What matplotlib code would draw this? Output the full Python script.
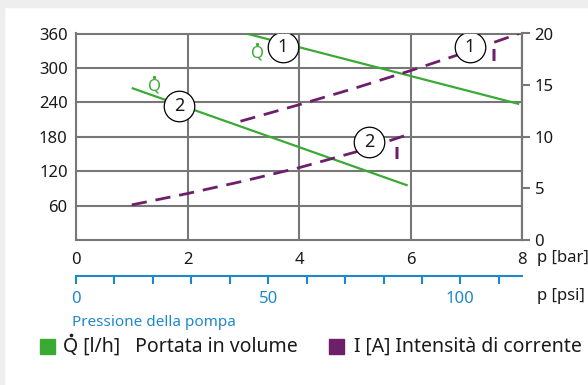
import matplotlib
matplotlib.use("Agg")
import matplotlib.pyplot as plt
from matplotlib.patches import Rectangle
from matplotlib.lines import Line2D

# Pump characteristics: pressure (bar) vs. volume flow (l/h) and current (A)
pressure_q1 = [3.05, 7.95]
flow_q1 = [360, 237]
pressure_q2 = [1.0, 5.95]
flow_q2 = [265, 95]

pressure_i1 = [2.95, 4.0, 5.0, 6.0, 7.0, 7.95]
current_i1 = [11.5, 13.1, 14.7, 16.4, 18.2, 20.0]
pressure_i2 = [1.0, 2.0, 3.0, 4.0, 5.0, 5.95]
current_i2 = [3.4, 4.5, 5.7, 7.0, 8.5, 10.2]

bar_ticks = [0, 2, 4, 6, 8]
flow_ticks = [60, 120, 180, 240, 300, 360]
current_ticks = [0, 5, 10, 15, 20]
psi_major = [0, 50, 100]
psi_minor = list(range(0, 120, 10))
PSI_PER_BAR = 14.5038

GREEN = "#3aaa35"
PURPLE = "#6d1f6a"
BLUE = "#1e88cc"
GRID = "#777777"
TEXT = "#1a1a1a"
FONT = "Noto Sans"

W, H = 588, 385
plt.rcParams["font.family"] = [FONT, "DejaVu Sans"]
fig = plt.figure(figsize=(W / 100, H / 100), dpi=100)


def fx(px):
    return px / W


def fy(py):
    return 1 - py / H


# light frame shadow along top and left edge
fig.patches.append(Rectangle((0, fy(7)), 1, 7 / H, transform=fig.transFigure,
                             color="#eeeeee", zorder=-5))
fig.patches.append(Rectangle((0, 0), 4 / W, 1, transform=fig.transFigure,
                             color="#eeeeee", zorder=-5))

ax = fig.add_axes([fx(76), fy(240), (522 - 76) / W, (240 - 33.5) / H])
ax.set_xlim(0, 8)
ax.set_ylim(0, 360)
ax.set_xticks(bar_ticks)
ax.set_yticks(flow_ticks)
ax.grid(True, color=GRID, linewidth=1.5)
ax.set_axisbelow(True)
for s in ax.spines.values():
    s.set_color(GRID)
    s.set_linewidth(1.5)
ax.tick_params(axis="x", length=0, pad=9, labelsize=12, labelcolor=TEXT)
ax.tick_params(axis="y", length=0, pad=6, labelsize=12, labelcolor=TEXT)

ax.plot(pressure_q1, flow_q1, color=GREEN, lw=1.6, solid_capstyle="butt", zorder=3)
ax.plot(pressure_q2, flow_q2, color=GREEN, lw=1.6, solid_capstyle="butt", zorder=3)

ax2 = ax.twinx()
ax2.set_ylim(0, 20)
ax2.set_yticks(current_ticks)
for s in ax2.spines.values():
    s.set_visible(False)
ax2.spines["right"].set_visible(True)
ax2.spines["right"].set_color(GRID)
ax2.spines["right"].set_linewidth(1.5)
ax2.tick_params(axis="y", direction="out", length=6, width=1.5, color=GRID,
                labelcolor=TEXT, pad=3, labelsize=12)

for px_, cur in ((pressure_i1, current_i1), (pressure_i2, current_i2)):
    ln, = ax2.plot(px_, cur, color=PURPLE, lw=2.0, zorder=3)
    ln.set_dashes([5.5, 3.2])

# circled curve numbers
circle_kw = dict(marker="o", markersize=22, markerfacecolor="white",
                 markeredgecolor="black", markeredgewidth=0.9, zorder=6)
for axis, x, y, num in ((ax, 3.71, 337, "1"), (ax, 1.85, 234, "2"),
                        (ax2, 7.06, 18.7, "1"), (ax2, 5.26, 9.5, "2")):
    axis.plot([x], [y], **circle_kw)
    axis.text(x, y, num, ha="center", va="center", fontsize=13, zorder=7,
              color=TEXT)

# curve symbols
q_labels = [
    ax.text(3.25, 318, "Q", color=GREEN, ha="center", va="baseline", fontsize=12, zorder=7),
    ax.text(1.40, 260, "Q", color=GREEN, ha="center", va="baseline", fontsize=12, zorder=7),
]
for x, y in ((7.49, 17.8), (5.75, 8.3)):
    ax2.text(x, y, "I", color=PURPLE, ha="center", va="center", fontsize=11.5,
             fontweight="bold", family="DejaVu Sans", zorder=7)

# secondary pressure scale in psi
sec = ax.secondary_xaxis((240 - 276) / (240 - 33.5),
                         functions=(lambda b: b * PSI_PER_BAR, lambda p: p / PSI_PER_BAR))
sec.set_xticks(psi_major)
sec.set_xticks(psi_minor, minor=True)
sec.spines["bottom"].set_color(BLUE)
sec.spines["bottom"].set_linewidth(1.5)
sec.tick_params(axis="x", which="both", direction="out", length=6, width=1.5,
                color=BLUE, labelcolor=BLUE, pad=5, labelsize=12)

fig.text(fx(537), fy(258), "p [bar]", fontsize=12, va="center", ha="left", color=TEXT)
fig.text(fx(537), fy(296), "p [psi]", fontsize=12, va="center", ha="left", color=TEXT)
fig.text(fx(72), fy(323), "Pressione della pompa", fontsize=11, color=BLUE,
         va="center", ha="left")

# legend
fig.patches.append(Rectangle((fx(40), fy(354)), 15 / W, 15 / H,
                             transform=fig.transFigure, color=GREEN))
fig.text(fx(63), fy(352), "Q [l/h]   Portata in volume", fontsize=14,
         va="baseline", ha="left", color=TEXT)
fig.patches.append(Rectangle((fx(329), fy(354)), 15 / W, 15 / H,
                             transform=fig.transFigure, color=PURPLE))
fig.text(fx(354), fy(352), "I [A] Intensità di corrente", fontsize=14,
         va="baseline", ha="left", color=TEXT)

# flow-rate dot above each Q
renderer = fig.canvas.get_renderer()
probe = fig.text(fx(63), fy(352), "Q", fontsize=14, va="baseline", ha="left")
dot_targets = [(q_labels[0].get_window_extent(renderer), GREEN, 2.4),
               (q_labels[1].get_window_extent(renderer), GREEN, 2.4),
               (probe.get_window_extent(renderer), TEXT, 2.6)]
probe.remove()
for bb, col, ms in dot_targets:
    cx = (bb.x0 + bb.x1) / 2 / W
    top = (bb.y0 + bb.height * 0.93 + 3) / H
    fig.add_artist(Line2D([cx], [top], marker="o", ms=ms, color=col,
                          markeredgewidth=0, transform=fig.transFigure))

fig.savefig("out.png", dpi=100)
